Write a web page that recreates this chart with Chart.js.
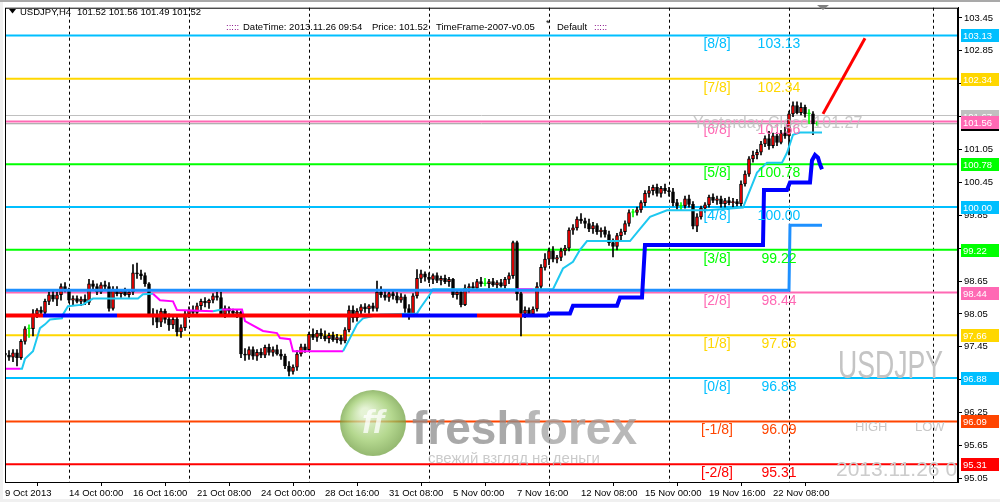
<!DOCTYPE html>
<html>
<head>
<meta charset="utf-8">
<script src="https://cdn.jsdelivr.net/npm/chart.js@4.4.1/dist/chart.umd.min.js"></script>
<style>
  html, body { margin: 0; padding: 0; background: #fff; }
  canvas { display: block; }
</style>
</head>
<body>
<canvas id="chart" width="1000" height="502"></canvas>
<script>
// USDJPY H4 candles: [open, high, low, close]
const bars = [
  [97.33,97.42,97.22,97.30],[97.30,97.38,97.20,97.26],[97.26,97.40,97.18,97.34],[97.34,97.40,97.10,97.25],
  [97.25,97.58,97.22,97.55],[97.55,97.82,97.50,97.78],[97.78,97.85,97.62,97.78],[97.78,98.13,97.65,98.05],
  [98.05,98.15,97.98,98.12],[98.12,98.18,98.02,98.08],[98.08,98.32,98.02,98.28],[98.28,98.45,98.22,98.40],
  [98.40,98.48,98.28,98.32],[98.32,98.45,98.20,98.40],[98.40,98.60,98.30,98.55],[98.55,98.62,98.45,98.50],
  [98.50,98.52,98.25,98.30],[98.30,98.38,98.22,98.33],[98.33,98.38,98.25,98.28],[98.28,98.36,98.20,98.32],
  [98.32,98.40,98.22,98.26],[98.26,98.68,98.22,98.60],[98.60,98.66,98.48,98.55],[98.55,98.60,98.40,98.45],
  [98.45,98.62,98.42,98.58],[98.58,98.65,98.50,98.55],[98.55,98.62,98.10,98.15],[98.15,98.55,98.12,98.48],
  [98.48,98.55,98.38,98.42],[98.42,98.50,98.35,98.47],[98.47,98.52,98.38,98.40],[98.40,98.50,98.35,98.45],
  [98.45,98.95,98.40,98.80],[98.80,98.98,98.70,98.78],[98.78,98.85,98.68,98.75],[98.75,98.80,98.55,98.60],
  [98.60,98.62,98.00,98.05],[98.05,98.15,97.85,98.00],[98.00,98.12,97.80,97.90],[97.90,98.15,97.82,98.10],
  [98.10,98.14,97.88,97.95],[97.95,98.05,97.75,97.85],[97.85,98.00,97.78,97.95],[97.95,98.00,97.65,97.72],
  [97.72,97.85,97.62,97.80],[97.80,98.10,97.75,98.05],[98.05,98.18,97.98,98.12],[98.12,98.20,98.02,98.08],
  [98.08,98.25,98.05,98.20],[98.20,98.32,98.12,98.28],[98.28,98.35,98.18,98.25],[98.25,98.32,98.15,98.30],
  [98.30,98.42,98.25,98.38],[98.38,98.45,98.30,98.35],[98.35,98.45,98.00,98.05],[98.05,98.20,97.98,98.15],
  [98.15,98.18,98.00,98.10],[98.10,98.14,98.02,98.06],[98.06,98.12,97.98,98.08],[98.08,98.10,97.25,97.32],
  [97.32,97.42,97.20,97.30],[97.30,97.45,97.22,97.40],[97.40,97.45,97.22,97.28],[97.28,97.40,97.20,97.35],
  [97.35,97.42,97.25,97.30],[97.30,97.48,97.25,97.44],[97.44,97.50,97.30,97.35],[97.35,97.45,97.28,97.40],
  [97.40,97.48,97.30,97.32],[97.32,97.40,97.22,97.28],[97.28,97.32,97.05,97.10],[97.10,97.18,96.92,97.00],
  [97.00,97.12,96.95,97.08],[97.08,97.38,97.02,97.32],[97.32,97.50,97.28,97.45],[97.45,97.50,97.35,97.40],
  [97.40,97.72,97.38,97.68],[97.68,97.78,97.58,97.62],[97.62,97.75,97.55,97.70],[97.70,97.78,97.60,97.65],
  [97.65,97.74,97.56,97.60],[97.60,97.70,97.52,97.66],[97.66,97.72,97.55,97.58],[97.58,97.68,97.52,97.62],
  [97.62,97.66,97.50,97.56],[97.56,97.80,97.52,97.76],[97.76,98.20,97.72,98.12],[98.12,98.20,97.90,97.98],
  [97.98,98.15,97.92,98.10],[98.10,98.22,98.05,98.18],[98.18,98.24,98.08,98.14],[98.14,98.22,98.06,98.20],
  [98.20,98.25,98.10,98.15],[98.15,98.65,98.10,98.45],[98.45,98.55,98.35,98.40],[98.40,98.48,98.30,98.35],
  [98.35,98.45,98.28,98.42],[98.42,98.50,98.32,98.38],[98.38,98.44,98.25,98.30],[98.30,98.42,98.26,98.36],
  [98.36,98.40,98.08,98.15],[98.15,98.22,97.95,98.05],[98.05,98.42,98.00,98.38],[98.38,98.86,98.34,98.70],
  [98.70,98.85,98.62,98.78],[98.78,98.82,98.65,98.72],[98.72,98.80,98.62,98.68],[98.68,98.78,98.60,98.75],
  [98.75,98.80,98.62,98.66],[98.66,98.74,98.58,98.70],[98.70,98.76,98.60,98.64],[98.64,98.72,98.55,98.68],
  [98.68,98.70,98.35,98.40],[98.40,98.50,98.32,98.45],[98.45,98.50,98.18,98.22],[98.22,98.58,98.20,98.52],
  [98.52,98.60,98.45,98.55],[98.55,98.62,98.48,98.52],[98.52,98.68,98.50,98.64],[98.64,98.72,98.55,98.60],
  [98.60,98.70,98.56,98.60],[98.60,98.68,98.52,98.64],[98.64,98.70,98.55,98.58],[98.58,98.66,98.52,98.62],
  [98.62,98.68,98.54,98.56],[98.56,98.72,98.52,98.68],[98.68,98.80,98.60,98.75],[98.75,99.38,98.70,99.35],
  [99.35,99.38,98.30,98.42],[98.42,98.45,97.65,98.06],[98.06,98.18,97.98,98.12],[98.12,98.16,98.00,98.05],
  [98.05,98.18,98.00,98.14],[98.14,98.62,98.10,98.55],[98.55,98.95,98.50,98.90],[98.90,99.15,98.85,99.05],
  [99.05,99.25,98.95,99.20],[99.20,99.28,99.00,99.05],[99.05,99.12,98.98,99.08],[99.08,99.25,99.02,99.20],
  [99.20,99.30,99.12,99.25],[99.25,99.62,99.20,99.58],[99.58,99.68,99.50,99.62],[99.62,99.82,99.58,99.78],
  [99.78,99.88,99.70,99.75],[99.75,99.80,99.62,99.70],[99.70,99.78,99.55,99.60],[99.60,99.72,99.52,99.66],
  [99.66,99.70,99.50,99.55],[99.55,99.62,99.45,99.58],[99.58,99.64,99.45,99.50],[99.50,99.56,99.30,99.35],
  [99.35,99.42,99.09,99.28],[99.28,99.52,99.22,99.48],[99.48,99.60,99.40,99.55],[99.55,99.75,99.50,99.70],
  [99.70,99.95,99.65,99.90],[99.90,99.96,99.82,99.90],[99.90,100.00,99.85,99.95],[99.95,100.12,99.90,100.08],
  [100.08,100.30,100.02,100.25],[100.25,100.38,100.18,100.30],[100.30,100.40,100.22,100.36],[100.36,100.42,100.20,100.25],
  [100.25,100.38,100.18,100.34],[100.34,100.42,100.25,100.30],[100.30,100.36,100.20,100.28],[100.28,100.34,100.02,100.08],
  [100.08,100.14,99.96,100.02],[100.02,100.08,99.95,100.02],[100.02,100.20,99.98,100.15],[100.15,100.22,100.00,100.05],
  [100.05,100.10,99.60,99.65],[99.65,99.88,99.55,99.82],[99.82,100.02,99.78,99.98],[99.98,100.08,99.90,100.04],
  [100.04,100.22,100.00,100.18],[100.18,100.24,100.08,100.12],[100.12,100.20,100.05,100.15],[100.15,100.20,100.00,100.06],
  [100.06,100.16,100.00,100.12],[100.12,100.18,100.04,100.08],[100.08,100.16,100.00,100.10],[100.10,100.14,100.02,100.06],
  [100.06,100.48,100.02,100.42],[100.42,100.66,100.38,100.60],[100.60,100.92,100.56,100.88],[100.88,101.02,100.82,100.95],
  [100.95,101.05,100.88,101.00],[101.00,101.20,100.95,101.15],[101.15,101.30,101.10,101.25],[101.25,101.38,101.05,101.12],
  [101.12,101.35,101.08,101.30],[101.30,101.36,101.12,101.18],[101.18,101.40,101.15,101.35],[101.35,101.46,101.25,101.30],
  [101.30,101.75,100.95,101.70],[101.70,101.92,101.65,101.85],[101.85,101.92,101.70,101.72],[101.72,101.90,101.68,101.82],
  [101.82,101.86,101.64,101.70],[101.70,101.78,101.52,101.70],[101.70,101.74,101.32,101.52],[101.52,101.56,101.49,101.52]
];

// time axis labels (bar index -> text)
const timeLabelIdx = [0, 16, 32, 48, 64, 80, 96, 112, 128, 144, 160, 176, 192];
const timeLabels = ['9 Oct 2013', '14 Oct 00:00', '16 Oct 16:00', '21 Oct 08:00', '24 Oct 00:00',
  '28 Oct 16:00', '31 Oct 08:00', '5 Nov 00:00', '7 Nov 16:00', '12 Nov 08:00', '15 Nov 00:00',
  '19 Nov 16:00', '22 Nov 08:00'];
const gridIdx = [16, 46, 76, 106, 136, 166, 196, 232];

// price axis
const priceTicks = [103.45, 102.85, 102.25, 101.65, 101.05, 100.45, 99.85, 99.25,
  98.65, 98.05, 97.45, 96.85, 96.25, 95.65, 95.05];

// Murrey math levels
const murreyLevels = [103.13, 102.34, 101.56, 100.78, 100.00, 99.22, 98.44, 97.66, 96.88, 96.09, 95.31];
const murreyNames = ['[8/8]', '[7/8]', '[6/8]', '[5/8]', '[4/8]', '[3/8]', '[2/8]', '[1/8]', '[0/8]', '[-1/8]', '[-2/8]'];
const murreyColors = ['#00BFFF', '#FFD700', '#FF69B4', '#00FF00', '#00BFFF', '#00FF00', '#FF69B4',
  '#FFD700', '#00BFFF', '#FF4500', '#FF0000'];

const askPrice = 101.67;
const bidPrice = 101.52;

// stair indicators: [bar index, price, colour key of the segment that starts here]
const trendLine = [
  [0, 98.02, 'r'], [9.5, 98.02, 'b'], [28, 98.02, 'r'], [99.25, 98.02, 'b'], [118, 98.02, 'r'],
  [129.25, 98.02, 'b'], [135.5, 98.02, 'b'], [136, 98.06, 'b'], [141.25, 98.06, 'b'], [142, 98.20, 'b'],
  [153, 98.20, 'b'], [153.75, 98.35, 'b'], [159.25, 98.35, 'b'], [160, 99.31, 'b'], [189.5, 99.31, 'b'],
  [189.75, 100.31, 'b'], [195.5, 100.31, 'b'], [196.25, 100.45, 'b'], [201.25, 100.45, 'b'],
  [201.75, 100.85, 'b'], [202.5, 100.95, 'b'], [203.25, 100.90, 'b'], [203.75, 100.78, 'b'], [204.25, 100.69, 'b']
];
const levelLine = [[0, 98.48], [196, 98.48], [196.25, 99.67], [204.25, 99.67]];
const trailLine = [
  [0, 97.05, 'm'], [3.75, 97.05, 'c'], [4.25, 97.05, 'c'], [5, 97.23, 'c'], [7, 97.37, 'c'], [8, 97.61, 'c'],
  [8.75, 97.79, 'c'], [10, 97.86, 'c'], [11.25, 97.95, 'c'], [14.25, 97.97, 'c'], [14.5, 98.04, 'c'],
  [15.75, 98.19, 'c'], [19.5, 98.22, 'c'], [20.75, 98.28, 'c'], [22, 98.33, 'c'], [33.25, 98.33, 'c'],
  [34.5, 98.41, 'c'], [37, 98.42, 'm'], [38.75, 98.30, 'm'], [42, 98.28, 'm'], [43, 98.12, 'm'],
  [52, 98.10, 'c'], [54.25, 98.13, 'm'], [59.25, 98.13, 'm'], [60, 97.92, 'm'], [64.5, 97.74, 'm'],
  [68, 97.70, 'm'], [68.75, 97.61, 'm'], [71.25, 97.59, 'm'], [72, 97.37, 'm'], [84.5, 97.37, 'c'],
  [86.25, 97.61, 'c'], [88, 97.86, 'c'], [89.5, 97.97, 'c'], [93.75, 98.04, 'c'], [103, 98.06, 'c'],
  [103.75, 98.15, 'c'], [106.25, 98.41, 'c'], [107, 98.50, 'c'], [128, 98.50, 'm'], [132, 98.50, 'c'],
  [137, 98.50, 'c'], [139.5, 98.88, 'c'], [142, 99.00, 'c'], [143.75, 99.22, 'c'], [145.5, 99.38, 'c'],
  [156.25, 99.38, 'c'], [158.75, 99.60, 'c'], [161.25, 99.82, 'c'], [165.5, 99.94, 'c'], [175.5, 99.94, 'c'],
  [184.5, 99.99, 'c'], [188, 100.63, 'c'], [190.5, 100.81, 'c'], [194.25, 100.81, 'c'], [195.5, 100.99, 'c'],
  [197, 101.32, 'c'], [198.75, 101.36, 'c'], [204.25, 101.36, 'c']
];
const projection = [[204.5, 101.70], [215, 103.08]];

const segColors = { r: '#FF0000', b: '#0000FF', m: '#FF00FF', c: '#1EC8F0' };
const X_MIN = 0, X_MAX = 238.25;
const FONT = '"Liberation Sans", Arial, sans-serif';
const SMALL = 9.5;

function hline(v, color, width, order) {
  return {
    type: 'line', data: [{ x: X_MIN, y: v }, { x: X_MAX, y: v }],
    borderColor: color, borderWidth: width, pointRadius: 0, order: order
  };
}

function stair(points, width, order) {
  return {
    type: 'line',
    data: points.map(p => ({ x: p[0], y: p[1] })),
    borderWidth: width, pointRadius: 0, order: order,
    borderColor: segColors[points[0][2]],
    segment: { borderColor: ctx => segColors[points[ctx.p0DataIndex][2]] }
  };
}

const datasets = [];
murreyLevels.forEach((v, k) => datasets.push(hline(v, murreyColors[k], 2, 20)));
datasets.push(hline(askPrice, '#C0C0C0', 1, 19));
datasets.push(hline(bidPrice, '#999999', 1, 19));

// wicks
datasets.push({
  type: 'bar', grouped: false, order: 6, barThickness: 1,
  data: bars.map((b, i) => ({ x: i, y: [b[2], b[1]] })),
  backgroundColor: bars.map(b => b[0] === b[3] ? '#00FF00' : '#000000')
});
// bodies
datasets.push({
  type: 'bar', grouped: false, order: 5, barThickness: 3, minBarLength: 1,
  borderWidth: 1, borderSkipped: false,
  data: bars.map((b, i) => ({ x: i, y: [Math.min(b[0], b[3]), Math.max(b[0], b[3])] })),
  backgroundColor: bars.map(b => b[0] === b[3] ? '#00FF00' : (b[3] > b[0] ? '#FF0000' : '#000000')),
  borderColor: bars.map(b => b[0] === b[3] ? '#00FF00' : '#000000')
});

datasets.push(stair(trailLine, 2, 3));
datasets.push({
  type: 'line', data: levelLine.map(p => ({ x: p[0], y: p[1] })),
  borderColor: '#1E90FF', borderWidth: 3, pointRadius: 0, order: 2
});
datasets.push(stair(trendLine, 4, 1));
datasets.push({
  type: 'line', data: projection.map(p => ({ x: p[0], y: p[1] })),
  borderColor: '#FF0000', borderWidth: 3, pointRadius: 0, order: 1
});

const frame = {
  id: 'frame',
  beforeDraw(chart) {
    const ctx = chart.ctx;
    ctx.save();
    ctx.fillStyle = '#FFFFFF';
    ctx.fillRect(0, 0, chart.width, chart.height);
    ctx.fillStyle = '#A9A9A9';
    ctx.fillRect(0, 0, chart.width, 2);
    ctx.fillStyle = '#F0F0F0';
    ctx.fillRect(0, 2, 3, chart.height);
    ctx.fillRect(0, chart.height - 3, chart.width, 3);
    ctx.restore();
  },
  beforeDatasetsDraw(chart) {
    const ctx = chart.ctx, a = chart.chartArea, xs = chart.scales.x;
    ctx.save();
    ctx.strokeStyle = '#000';
    ctx.lineWidth = 1;
    ctx.setLineDash([3, 3]);
    gridIdx.forEach(i => {
      const x = Math.round(xs.getPixelForValue(i)) + 0.5;
      ctx.beginPath();
      ctx.moveTo(x, a.top);
      ctx.lineTo(x, a.bottom);
      ctx.stroke();
    });
    ctx.restore();
  },
  afterDatasetsDraw(chart) {
    const ctx = chart.ctx, a = chart.chartArea, ys = chart.scales.y, xs = chart.scales.x;
    ctx.save();
    ctx.beginPath();
    ctx.rect(a.left, a.top, a.right - a.left, a.bottom - a.top);
    ctx.clip();

    // logo watermark
    ctx.globalAlpha = 0.75;
    const g = ctx.createRadialGradient(365, 412, 4, 373, 423, 34);
    g.addColorStop(0, '#DDEFC8');
    g.addColorStop(0.6, '#9CCB6A');
    g.addColorStop(1, '#6E9E3E');
    ctx.fillStyle = g;
    ctx.beginPath();
    ctx.arc(373, 423, 33, 0, Math.PI * 2);
    ctx.fill();
    ctx.fillStyle = '#FFFFFF';
    ctx.font = 'italic bold 34px ' + FONT;
    ctx.textAlign = 'center';
    ctx.textBaseline = 'middle';
    ctx.fillText('ff', 373, 424);
    ctx.textAlign = 'left';
    ctx.textBaseline = 'alphabetic';
    ctx.font = 'bold 46px ' + FONT;
    ctx.fillStyle = '#8C8C8C';
    ctx.fillText('fresh', 412, 444);
    const fw = ctx.measureText('fresh').width;
    ctx.fillStyle = '#A0A0A0';
    ctx.fillText('forex', 412 + fw, 444);
    ctx.font = '15px ' + FONT;
    ctx.fillStyle = '#B8B8B8';
    ctx.fillText('свежий взгляд на деньги', 428, 463);
    ctx.globalAlpha = 1;

    // Murrey labels
    ctx.font = '14px ' + FONT;
    ctx.textAlign = 'center';
    ctx.textBaseline = 'middle';
    murreyLevels.forEach((v, k) => {
      const y = ys.getPixelForValue(v) + 9;
      ctx.fillStyle = murreyColors[k];
      ctx.fillText(murreyNames[k], xs.getPixelForValue(178), y);
      ctx.fillText(v.toFixed(2), xs.getPixelForValue(193.5), y);
    });

    // yesterday close text
    ctx.fillStyle = 'rgba(190,190,190,0.85)';
    ctx.font = '16px ' + FONT;
    ctx.textAlign = 'left';
    ctx.fillText('Yesterday Close 101.27', 693, ys.getPixelForValue(101.52));

    // symbol watermark
    ctx.fillStyle = '#C4C4C4';
    ctx.save();
    ctx.translate(838, 378);
    ctx.scale(0.7, 1);
    ctx.font = '38px ' + FONT;
    ctx.textBaseline = 'alphabetic';
    ctx.fillText('USDJPY', 0, 0);
    ctx.restore();
    ctx.font = '13px ' + FONT;
    ctx.fillStyle = '#C8C8C8';
    ctx.fillText('HIGH', 855, 427);
    ctx.fillText('LOW', 915, 427);
    ctx.font = '21px ' + FONT;
    ctx.fillStyle = '#CCCCCC';
    ctx.fillText('2013.11.26 09:54', 836, 470);
    ctx.restore();
  },
  afterDraw(chart) {
    const ctx = chart.ctx, a = chart.chartArea, ys = chart.scales.y;
    ctx.save();
    ctx.strokeStyle = '#000';
    ctx.lineWidth = 1;
    ctx.strokeRect(a.left + 0.5, a.top + 0.5, a.right - a.left - 1, a.bottom - a.top);

    // price boxes on the axis
    const boxes = [
      [103.13, '#00BFFF'], [102.34, '#FFD700'], [askPrice, '#C0C0C0'], [bidPrice, '#000000'],
      [101.56, '#FF69B4'], [100.78, '#00FF00'], [100.00, '#00BFFF'], [99.22, '#00FF00'],
      [98.44, '#FF69B4'], [97.66, '#FFD700'], [96.88, '#00BFFF'], [96.09, '#FF4500'], [95.31, '#FF0000']
    ];
    ctx.font = SMALL + 'px ' + FONT;
    ctx.textBaseline = 'middle';
    boxes.forEach(([v, c]) => {
      const y = Math.round(ys.getPixelForValue(v));
      ctx.fillStyle = c;
      ctx.fillRect(a.right + 3, y - 6, 38, 13);
      ctx.fillStyle = '#FFFFFF';
      ctx.fillText(v.toFixed(2), a.right + 5, y + 1);
    });

    // header
    ctx.fillStyle = '#000';
    ctx.beginPath();
    ctx.moveTo(9, 9); ctx.lineTo(16, 9); ctx.lineTo(12.5, 13.5); ctx.closePath();
    ctx.fill();
    ctx.textBaseline = 'alphabetic';
    ctx.fillText('USDJPY,H4', 20, 15);
    ctx.fillText('101.52 101.56 101.49 101.52', 77, 15);
    ctx.fillStyle = '#800080';
    ctx.fillText(':::::', 226, 30);
    ctx.fillText(':::::', 594, 30);
    ctx.fillStyle = '#000';
    ctx.fillText('DateTime: 2013.11.26 09:54', 243, 30);
    ctx.fillText('Price: 101.52', 372, 30);
    ctx.fillText('TimeFrame-2007-v0.05', 436, 30);
    ctx.fillText('*', 546, 26);
    ctx.fillText('Default', 557, 30);

    // chart shift marker
    ctx.fillStyle = '#808080';
    ctx.beginPath();
    ctx.moveTo(817, 5); ctx.lineTo(829, 5); ctx.lineTo(823, 10); ctx.closePath();
    ctx.fill();
    ctx.restore();
  }
};

new Chart(document.getElementById('chart'), {
  type: 'bar',
  data: { datasets: datasets },
  options: {
    responsive: false,
    animation: false,
    devicePixelRatio: 1,
    layout: { padding: { left: 5, top: 4, right: 0, bottom: 0 } },
    plugins: { legend: { display: false }, tooltip: { enabled: false } },
    scales: {
      x: {
        type: 'linear', min: X_MIN, max: X_MAX, offset: false,
        afterBuildTicks: s => { s.ticks = timeLabelIdx.map(v => ({ value: v })); },
        afterFit: s => { s.height = 20; },
        ticks: {
          autoSkip: false, maxRotation: 0, align: 'start', padding: 2, color: '#000',
          font: { family: FONT, size: SMALL },
          callback: v => timeLabels[timeLabelIdx.indexOf(v)]
        },
        grid: { drawOnChartArea: false, drawTicks: true, tickLength: 4, color: '#000' },
        border: { display: true, color: '#000' }
      },
      y: {
        type: 'linear', position: 'right', min: 94.984, max: 103.637,
        afterBuildTicks: s => { s.ticks = priceTicks.map(v => ({ value: v })); },
        afterFit: s => { s.width = 42; },
        ticks: {
          padding: 2, color: '#000', font: { family: FONT, size: SMALL },
          callback: v => v.toFixed(2)
        },
        grid: { drawOnChartArea: false, drawTicks: true, tickLength: 4, color: '#000' },
        border: { display: true, color: '#000' }
      }
    }
  },
  plugins: [frame]
});
</script>
</body>
</html>
